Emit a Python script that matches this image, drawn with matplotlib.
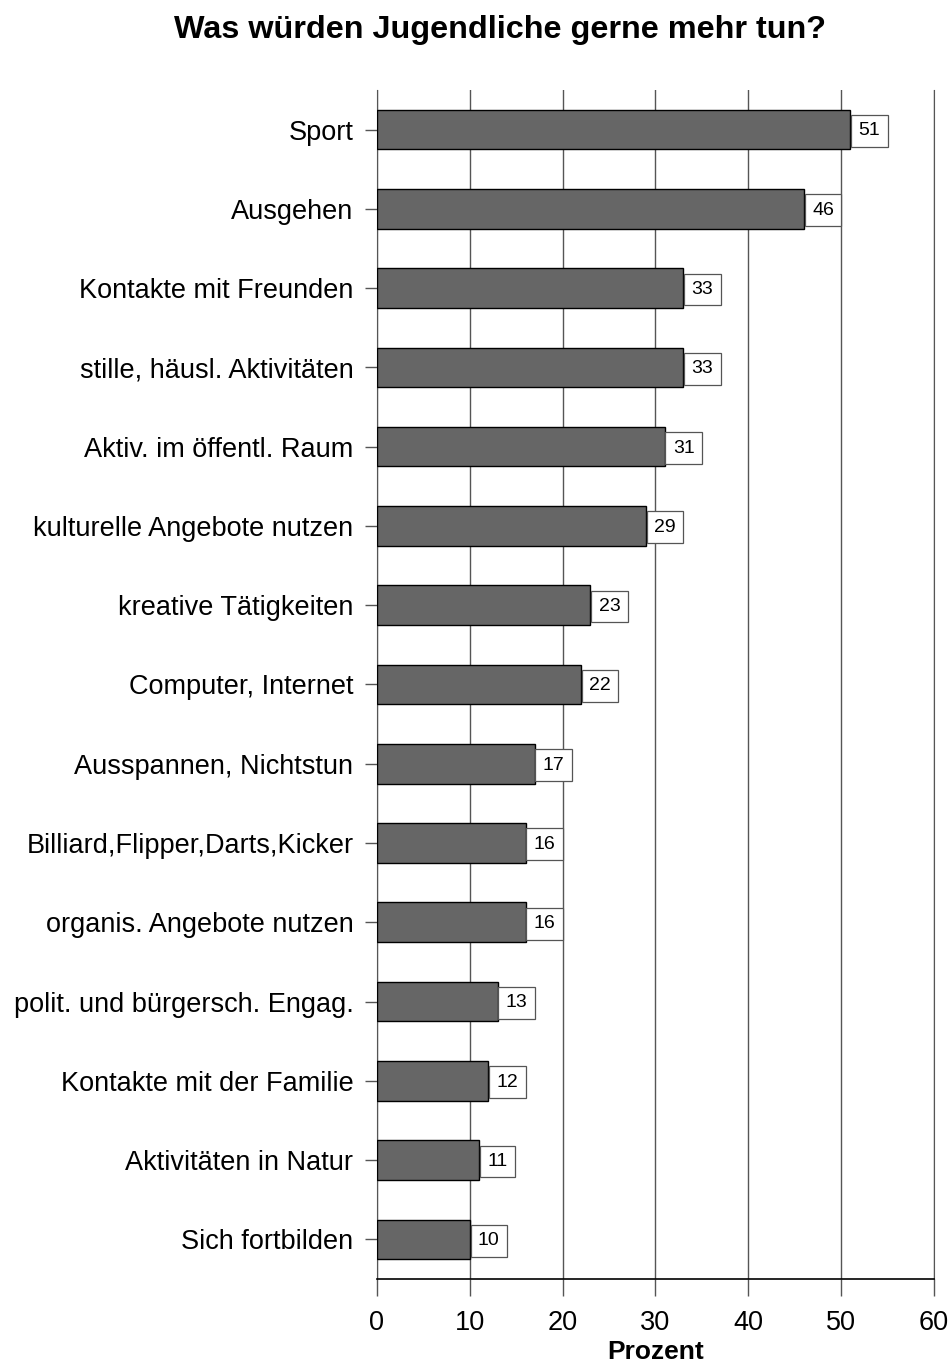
import matplotlib
matplotlib.use("Agg")
from matplotlib import pyplot as plt
import numpy as np

plt.rcParams['font.family'] = ['Liberation Sans', 'DejaVu Sans']

categories = [
    "Sport",
    "Ausgehen",
    "Kontakte mit Freunden",
    "stille, häusl. Aktivitäten",
    "Aktiv. im öffentl. Raum",
    "kulturelle Angebote nutzen",
    "kreative Tätigkeiten",
    "Computer, Internet",
    "Ausspannen, Nichtstun",
    "Billiard,Flipper,Darts,Kicker",
    "organis. Angebote nutzen",
    "polit. und bürgersch. Engag.",
    "Kontakte mit der Familie",
    "Aktivitäten in Natur",
    "Sich fortbilden",
]
values = [51, 46, 33, 33, 31, 29, 23, 22, 17, 16, 16, 13, 12, 11, 10]
xticks = [0, 10, 20, 30, 40, 50, 60]

BAR_COLOR = '#666666'
GRID_COLOR = '#555555'


def main():
    fig = plt.figure(figsize=(9.52, 13.67), dpi=100)
    ax = fig.add_axes([0.396, 0.0644, 0.585, 0.8698])

    y = np.arange(len(categories))
    ax.barh(y, values, height=0.5, color=BAR_COLOR, edgecolor='black', linewidth=1.0, zorder=3)

    # value boxes sitting right at the bar end
    pad = 0.38
    fs = 14
    for yi, v in zip(y, values):
        ax.annotate(f"{v}", (v, yi), xytext=(pad * fs + 0.5, -1), textcoords='offset points',
                    ha='left', va='center', fontsize=fs, zorder=4,
                    bbox=dict(boxstyle=f'square,pad={pad}', fc='white', ec='#555555', lw=0.9))

    ax.set_ylim(len(categories) - 0.5, -0.5)
    ax.set_xlim(0, 60)
    ax.set_xticks(xticks)
    ax.set_yticks(y)
    ax.set_yticklabels(categories, fontsize=19.5)
    ax.tick_params(axis='y', length=9, width=1, color=GRID_COLOR, pad=8)
    ax.tick_params(axis='x', length=12, width=1, color=GRID_COLOR, labelsize=19.5, pad=10)

    ax.grid(axis='x', color=GRID_COLOR, linewidth=1.0, zorder=0)
    ax.set_axisbelow(True)
    ax.spines['top'].set_visible(False)
    ax.spines['left'].set_color(GRID_COLOR)
    ax.spines['right'].set_color(GRID_COLOR)
    ax.spines['bottom'].set_color('black')
    ax.spines['bottom'].set_linewidth(1.2)

    ax.set_xlabel("Prozent", fontsize=19, fontweight='bold', labelpad=3)
    fig.text(0.525, 0.978, "Was würden Jugendliche gerne mehr tun?", ha='center', va='center',
             fontsize=23.3, fontweight='bold')

    fig.savefig("out.png", dpi=100)


if __name__ == '__main__':
    main()
